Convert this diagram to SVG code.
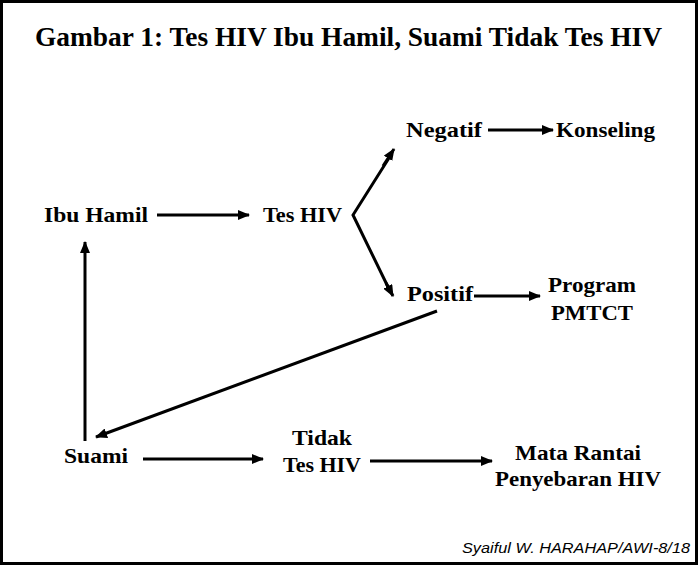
<svg xmlns="http://www.w3.org/2000/svg" width="700" height="567" viewBox="0 0 700 567">
<style>
text.t{font-family:'Liberation Serif','Times New Roman','DejaVu Serif',serif;font-weight:bold;font-size:22px;fill:#000}
.c{stroke:#000;stroke-width:3;fill:none}
</style>
<defs>
<marker id="ah" markerWidth="12" markerHeight="10" refX="11" refY="5" orient="auto" markerUnits="userSpaceOnUse">
<path d="M0,0 L12,5 L0,10 Z" fill="#000"/>
</marker>
</defs>
<rect x="0" y="0" width="700" height="567" fill="#fff"/>
<rect x="1.5" y="1.5" width="695" height="562" fill="none" stroke="#000" stroke-width="3"/>
<text x="35" y="46" class="t" style="font-size:28px" textLength="627" lengthAdjust="spacingAndGlyphs">Gambar 1: Tes HIV Ibu Hamil, Suami Tidak Tes HIV</text>
<g id="connectors">
<path class="c" d="M157,215 L249,215" marker-end="url(#ah)"/>
<path class="c" d="M389,158 L353,215 L390,291"/>
<path class="c" d="M383,166 L394,149" marker-end="url(#ah)"/>
<path class="c" d="M386,283 L393,296" marker-end="url(#ah)"/>
<path class="c" d="M488,130 L553,130" marker-end="url(#ah)"/>
<path class="c" d="M474,296 L540,296" marker-end="url(#ah)"/>
<path class="c" d="M437,311 L96,437" marker-end="url(#ah)"/>
<path class="c" d="M85,441 L85,242" marker-end="url(#ah)"/>
<path class="c" d="M143,459 L263,459" marker-end="url(#ah)"/>
<path class="c" d="M370,461 L492,461" marker-end="url(#ah)"/>
</g>
<g id="ibu-hamil"><text x="44" y="222" class="t" textLength="104" lengthAdjust="spacingAndGlyphs">Ibu Hamil</text></g>
<g id="tes-hiv"><text x="263" y="222" class="t" textLength="79" lengthAdjust="spacingAndGlyphs">Tes HIV</text></g>
<g id="negatif"><text x="406" y="137" class="t" textLength="76" lengthAdjust="spacingAndGlyphs">Negatif</text></g>
<g id="konseling"><text x="556" y="137" class="t" textLength="99" lengthAdjust="spacingAndGlyphs">Konseling</text></g>
<g id="positif"><text x="407" y="301" class="t" textLength="66" lengthAdjust="spacingAndGlyphs">Positif</text></g>
<g id="program-pmtct"><text x="548" y="292" class="t" textLength="88" lengthAdjust="spacingAndGlyphs">Program</text><text x="551" y="320" class="t" textLength="82" lengthAdjust="spacingAndGlyphs">PMTCT</text></g>
<g id="suami"><text x="64" y="463" class="t" textLength="64" lengthAdjust="spacingAndGlyphs">Suami</text></g>
<g id="tidak-tes-hiv"><text x="292" y="445" class="t" textLength="60" lengthAdjust="spacingAndGlyphs">Tidak</text><text x="283" y="472" class="t" textLength="78" lengthAdjust="spacingAndGlyphs">Tes HIV</text></g>
<g id="mata-rantai"><text x="515" y="460" class="t" textLength="126" lengthAdjust="spacingAndGlyphs">Mata Rantai</text><text x="495" y="486" class="t" textLength="166" lengthAdjust="spacingAndGlyphs">Penyebaran HIV</text></g>
<text x="462" y="553" font-family="Liberation Sans, Arial, sans-serif" font-style="italic" font-size="15" textLength="228" lengthAdjust="spacingAndGlyphs">Syaiful W. HARAHAP/AWI-8/18</text>
</svg>
